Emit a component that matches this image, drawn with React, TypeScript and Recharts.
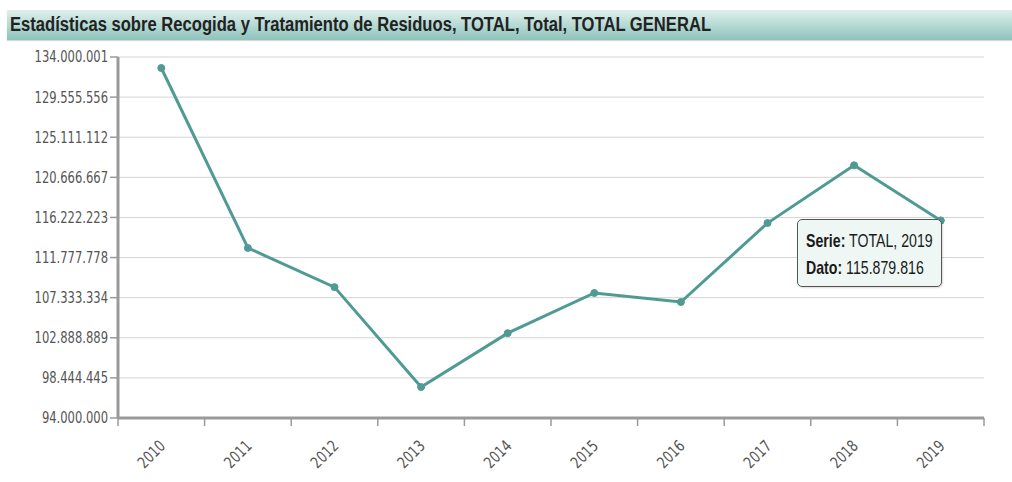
import { LineChart, Line, XAxis, YAxis, CartesianGrid, Tooltip, ReferenceArea } from 'recharts'

// ─── Data ─────────
const YEARS = ['2010', '2011', '2012', '2013', '2014', '2015', '2016', '2017', '2018', '2019']
const TOTAL = [
  132780000, 112840000, 108500000, 97430000, 103400000,
  107850000, 106850000, 115600000, 122000000, 115879816,
]
const Y_TICKS = [
  94000000, 98444445, 102888889, 107333334, 111777778,
  116222223, 120666667, 125111112, 129555556, 134000001,
]
const SERIES_NAME = 'TOTAL'
const TITLE = 'Estadísticas sobre Recogida y Tratamiento de Residuos, TOTAL, Total, TOTAL GENERAL'

const data = YEARS.map((year, i) => ({ year, value: TOTAL[i] }))

// ─── Layout ─────────
const W = 1012
const H = 482
const PLOT_LEFT = 118
const PLOT_RIGHT = 984
const PLOT_TOP = 57
const PLOT_BOTTOM = 418
const X_AXIS_H = 30
const HALF_BAND = (PLOT_RIGHT - PLOT_LEFT) / YEARS.length / 2
// the source is squeezed horizontally, every text is too
const SQUEEZE = 0.77

const LINE_COLOR = '#4f9b94'
const AXIS_COLOR = '#9a9a9a'
const LABEL_COLOR = '#555'
const TICK_FONT = 'DejaVu Sans, sans-serif'
const TEXT_FONT = 'Liberation Sans, Arial, sans-serif'

const fmt = (v: number) => String(Math.round(v)).replace(/\B(?=(\d{3})+(?!\d))/g, '.')

const XTick = (props: any) => {
  const { x, y, payload, index } = props
  const last = index === YEARS.length - 1
  const ax = x + 5
  const ay = y + 21
  return (
    <g>
      <line x1={x - HALF_BAND} x2={x - HALF_BAND} y1={y - 8} y2={y} stroke={AXIS_COLOR} strokeWidth={1.5} />
      {last && (
        <line x1={x + HALF_BAND} x2={x + HALF_BAND} y1={y - 8} y2={y} stroke={AXIS_COLOR} strokeWidth={1.5} />
      )}
      <text
        x={0}
        y={0}
        textAnchor="end"
        transform={`translate(${ax} ${ay}) rotate(-45) scale(${SQUEEZE} 1)`}
        fill={LABEL_COLOR}
        fontSize={16}
        fontFamily={TICK_FONT}
      >
        {payload.value}
      </text>
    </g>
  )
}

const YTick = (props: any) => {
  const { x, y, payload } = props
  return (
    <text
      x={0}
      y={0}
      dy="0.36em"
      textAnchor="end"
      transform={`translate(${x} ${y}) scale(${SQUEEZE} 1)`}
      fill={LABEL_COLOR}
      fontSize={15}
      fontFamily={TICK_FONT}
    >
      {fmt(payload.value)}
    </text>
  )
}

const squeezed = (k: number) => ({
  transform: `scaleX(${k})`,
  transformOrigin: 'left center',
  whiteSpace: 'nowrap' as const,
})

const TipBox = ({ active, payload }: any) => {
  if (!active || !payload || !payload.length) return null
  const p = payload[0].payload
  return (
    <div
      style={{
        boxSizing: 'border-box',
        width: 145,
        height: 68,
        background: '#eef7f4',
        border: '1px solid #555',
        borderRadius: 5,
        padding: '7px 0 0 8px',
        fontFamily: TEXT_FONT,
        fontSize: 19,
        lineHeight: '27px',
        color: '#1a1a1a',
        boxShadow: '1px 1px 2px rgba(0,0,0,0.15)',
      }}
    >
      <div style={squeezed(0.745)}>
        <b>Serie:</b> {SERIES_NAME}, {p.year}
      </div>
      <div style={squeezed(0.745)}>
        <b>Dato:</b> {fmt(p.value)}
      </div>
    </div>
  )
}

export default function App() {
  return (
    <div style={{ position: 'absolute', left: 0, top: 0, width: W, height: H, background: '#fff' }}>
      <div
        style={{
          position: 'absolute',
          left: 7,
          top: 10,
          width: W - 7,
          height: 30,
          background: 'linear-gradient(to bottom, #e0f0ec, #8ec3bc)',
          boxShadow: '0 1px 1px rgba(0,0,0,0.15)',
        }}
      >
        <div
          style={{
            position: 'absolute',
            left: 3,
            top: 3,
            fontFamily: TEXT_FONT,
            fontWeight: 'bold',
            fontSize: 20,
            color: '#222',
            ...squeezed(0.83),
          }}
        >
          {TITLE}
        </div>
      </div>
      <div style={{ position: 'absolute', left: 0, top: 0 }}>
        <LineChart
          width={W}
          height={H}
          data={data}
          margin={{ top: PLOT_TOP, right: W - PLOT_RIGHT, bottom: H - PLOT_BOTTOM - X_AXIS_H, left: 0 }}
        >
          <CartesianGrid vertical={false} stroke="#d4d4d4" strokeWidth={1} />
          <ReferenceArea
            fill="none"
            stroke={AXIS_COLOR}
            strokeWidth={2}
            style={{ filter: 'drop-shadow(2px 2px 1px rgba(0,0,0,0.25))' }}
          />
          <XAxis
            dataKey="year"
            height={X_AXIS_H}
            padding={{ left: HALF_BAND, right: HALF_BAND }}
            axisLine={{ stroke: AXIS_COLOR, strokeWidth: 3 }}
            tickLine={false}
            tickSize={8}
            tickMargin={0}
            tick={<XTick />}
            interval={0}
          />
          <YAxis
            width={PLOT_LEFT}
            domain={[Y_TICKS[0], Y_TICKS[Y_TICKS.length - 1]]}
            ticks={Y_TICKS}
            interval={0}
            axisLine={{ stroke: AXIS_COLOR, strokeWidth: 3 }}
            tickLine={{ stroke: AXIS_COLOR, strokeWidth: 1.5 }}
            tickSize={8}
            tickMargin={2}
            tick={<YTick />}
          />
          <Tooltip
            active
            defaultIndex={9}
            position={{ x: 797, y: 219 }}
            cursor={false}
            content={<TipBox />}
            isAnimationActive={false}
          />
          <Line
            type="linear"
            dataKey="value"
            stroke={LINE_COLOR}
            strokeWidth={3}
            dot={{ r: 3.5, fill: LINE_COLOR, stroke: LINE_COLOR, strokeWidth: 1 }}
            activeDot={{ r: 3.5, fill: LINE_COLOR, stroke: LINE_COLOR, strokeWidth: 1 }}
            isAnimationActive={false}
          />
        </LineChart>
      </div>
    </div>
  )
}
